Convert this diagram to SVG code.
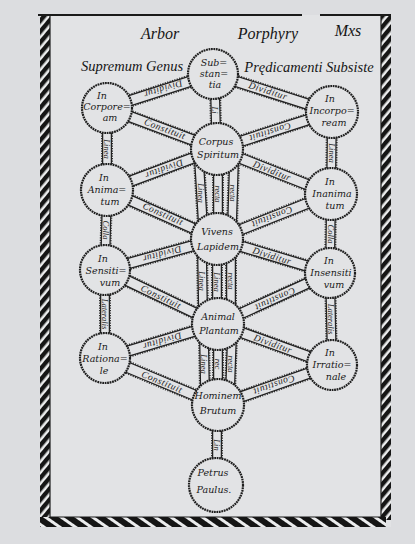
<svg xmlns="http://www.w3.org/2000/svg" width="415" height="544" viewBox="0 0 415 544">
<defs>
<pattern id="hatch" width="7" height="7" patternUnits="userSpaceOnUse" patternTransform="rotate(40)">
<rect x="0" y="0" width="7" height="7" fill="#ecedee"/>
<rect x="0" y="0" width="4.4" height="7" fill="#151515"/>
</pattern>
<pattern id="hatchB" width="9" height="9" patternUnits="userSpaceOnUse" patternTransform="rotate(-55)">
<rect x="0" y="0" width="9" height="9" fill="#ecedee"/>
<rect x="0" y="0" width="6" height="9" fill="#151515"/>
</pattern>
</defs>
<style>
.bd{stroke:#333;stroke-width:13.5;stroke-dasharray:1.2 1.3;fill:none}
.bo{stroke:#222;stroke-width:11.5;fill:none}
.bi{stroke:#e2e3e5;stroke-width:9;fill:none}
.sd{stroke:#333;stroke-width:12;stroke-dasharray:1.2 1.3;fill:none}
.so{stroke:#222;stroke-width:10;fill:none}
.si{stroke:#e2e3e5;stroke-width:7.5;fill:none}
.nd{fill:#e2e3e5;stroke:#1e1e1e;stroke-width:2.2;stroke-dasharray:1.8 0.7}
.nl{font-family:"DejaVu Serif","Liberation Serif",serif;font-style:italic;font-size:9.5px;fill:#1a1a1a;text-anchor:middle}
.bl{font-family:"Liberation Serif","DejaVu Serif",serif;font-style:italic;font-size:9.5px;letter-spacing:0.6px;fill:#1a1a1a;text-anchor:middle;dominant-baseline:central}
.vl{font-family:"Liberation Serif","DejaVu Serif",serif;font-style:italic;font-size:8.5px;fill:#1a1a1a;text-anchor:middle;dominant-baseline:central}
.tt{font-family:"Liberation Serif","DejaVu Serif",serif;font-style:italic;fill:#151515}
</style>
<rect x="0" y="0" width="415" height="544" fill="#dcdde0"/>
<rect x="40" y="15" width="351" height="512" fill="#e2e3e5"/>
<g id="frame">
<rect x="40" y="16" width="10" height="511" fill="url(#hatch)"/>
<rect x="381" y="15" width="10" height="505" fill="url(#hatch)"/>
<rect x="40" y="517" width="346" height="10" fill="url(#hatchB)"/>
<line x1="50" y1="16" x2="50" y2="517" stroke="#1a1a1a" stroke-width="1.2"/>
<line x1="381" y1="15" x2="381" y2="517" stroke="#1a1a1a" stroke-width="1.2"/>
<line x1="38" y1="15" x2="302" y2="15" stroke="#1a1a1a" stroke-width="2"/>
<line x1="320" y1="15" x2="391" y2="15" stroke="#1a1a1a" stroke-width="2"/>
<line x1="50" y1="517" x2="381" y2="517" stroke="#1a1a1a" stroke-width="1"/>
</g>
<g id="titles">
<text class="tt" x="160" y="39" font-size="16" text-anchor="middle">Arbor</text>
<text class="tt" x="268" y="39" font-size="16" text-anchor="middle">Porphyry</text>
<text class="tt" x="348" y="36" font-size="16" text-anchor="middle">Mxs</text>
<text class="tt" x="132" y="71" font-size="14.5" text-anchor="middle">Supremum Genus</text>
<text class="tt" x="309" y="72" font-size="14.5" text-anchor="middle">Prędicamenti Subsiste</text>
</g>
<g id="connectors">
<g id="diagonals">
<path d="M213 74L107 108M213 74L332 112M107 108L217 149M332 112L217 149M217 149L107 190M217 149L331 194M107 190L217 239M331 194L217 239M217 239L105 270M217 239L330 273M105 270L218 324M330 273L218 324M218 324L105 358M218 324L332 365M105 358L218 405M332 365L218 405" class="bd"/>
<path d="M213 74L107 108M213 74L332 112M107 108L217 149M332 112L217 149M217 149L107 190M217 149L331 194M107 190L217 239M331 194L217 239M217 239L105 270M217 239L330 273M105 270L218 324M330 273L218 324M218 324L105 358M218 324L332 365M105 358L218 405M332 365L218 405" class="bo"/>
<path d="M213 74L107 108M213 74L332 112M107 108L217 149M332 112L217 149M217 149L107 190M217 149L331 194M107 190L217 239M331 194L217 239M217 239L105 270M217 239L330 273M105 270L218 324M330 273L218 324M218 324L105 358M218 324L332 365M105 358L218 405M332 365L218 405" class="bi"/>
</g>
<g id="verticals">
<path d="M107 108L107 190M107 190L105 270M105 270L105 358M332 112L331 194M331 194L330 273M330 273L332 365M215 90L216 130M199 160L203 226M218 162L218 226M234 160L232 226M202 250L203 312M217 252L217 312M231 250L231 312M204 335L205 392M218 337L218 392M232 335L230 392M217 420L217 470" class="sd"/>
<path d="M107 108L107 190M107 190L105 270M105 270L105 358M332 112L331 194M331 194L330 273M330 273L332 365M215 90L216 130M199 160L203 226M218 162L218 226M234 160L232 226M202 250L203 312M217 252L217 312M231 250L231 312M204 335L205 392M218 337L218 392M232 335L230 392M217 420L217 470" class="so"/>
<path d="M107 108L107 190M107 190L105 270M105 270L105 358M332 112L331 194M331 194L330 273M330 273L332 365M215 90L216 130M199 160L203 226M218 162L218 226M234 160L232 226M202 250L203 312M217 252L217 312M231 250L231 312M204 335L205 392M218 337L218 392M232 335L230 392M217 420L217 470" class="si"/>
</g>
<text class="bl" transform="translate(163,89) rotate(162.2)">Dividitur</text>
<text class="bl" transform="translate(268,91) rotate(17.7)">Dividitur</text>
<text class="bl" transform="translate(165,129) rotate(20.4)">Constituit</text>
<text class="bl" transform="translate(270,132) rotate(162.2)">Constituit</text>
<text class="bl" transform="translate(164,169) rotate(159.6)">Dividitur</text>
<text class="bl" transform="translate(272,171) rotate(21.5)">Dividitur</text>
<text class="bl" transform="translate(163,214) rotate(24)">Constituit</text>
<text class="bl" transform="translate(272,217) rotate(158.5)">Constituit</text>
<text class="bl" transform="translate(162,254) rotate(164.5)">Dividitur</text>
<text class="bl" transform="translate(272,256) rotate(16.7)">Dividitur</text>
<text class="bl" transform="translate(161,297) rotate(25.5)">Constituit</text>
<text class="bl" transform="translate(275,299) rotate(155.5)">Constituit</text>
<text class="bl" transform="translate(162,341) rotate(163.3)">Dividitur</text>
<text class="bl" transform="translate(273,344) rotate(19.8)">Dividitur</text>
<text class="bl" transform="translate(162,382) rotate(22.6)">Constituit</text>
<text class="bl" transform="translate(274,385) rotate(160.7)">Constituit</text>
<text class="vl" transform="translate(107,149) rotate(90)">Linea</text>
<text class="vl" transform="translate(106,230) rotate(90)">Colla</text>
<text class="vl" transform="translate(105,314) rotate(90)">Lateralis</text>
<text class="vl" transform="translate(332,153) rotate(90)">Linea</text>
<text class="vl" transform="translate(331,234) rotate(90)">Colla</text>
<text class="vl" transform="translate(331,319) rotate(90)">Lateralis</text>
<text class="vl" transform="translate(215,110) rotate(90)">Li</text>
<text class="vl" transform="translate(201,193) rotate(90)">Linea</text>
<text class="vl" transform="translate(218,194) rotate(90)">recta</text>
<text class="vl" transform="translate(233,193) rotate(90)">recta</text>
<text class="vl" transform="translate(202,281) rotate(90)">Linea</text>
<text class="vl" transform="translate(217,282) rotate(90)">Linea</text>
<text class="vl" transform="translate(231,281) rotate(90)">recta</text>
<text class="vl" transform="translate(204,364) rotate(90)">Linea</text>
<text class="vl" transform="translate(218,364) rotate(90)">rec</text>
<text class="vl" transform="translate(231,364) rotate(90)">recta</text>
<text class="vl" transform="translate(217,445) rotate(90)">Lin</text>
</g>
<g id="n-substantia"><circle class="nd" cx="213" cy="74" r="25"/><text class="nl" x="214" y="66">Sub=</text><text class="nl" x="214" y="77">stan=</text><text class="nl" x="215" y="88">tia</text></g>
<g id="n-corporeum"><circle class="nd" cx="107" cy="108" r="25"/><text class="nl" x="102" y="99">In</text><text class="nl" x="107" y="110">Corpore=</text><text class="nl" x="110" y="121">am</text></g>
<g id="n-incorporeum"><circle class="nd" cx="332" cy="112" r="26"/><text class="nl" x="330" y="102">In</text><text class="nl" x="332" y="114">Incorpo=</text><text class="nl" x="334" y="126">ream</text></g>
<g id="n-corpus"><circle class="nd" cx="217" cy="149" r="26"/><text class="nl" x="216" y="145">Corpus</text><text class="nl" x="218" y="158">Spiritum</text></g>
<g id="n-animatum"><circle class="nd" cx="107" cy="190" r="26"/><text class="nl" x="104" y="181">In</text><text class="nl" x="107" y="193">Anima=</text><text class="nl" x="110" y="205">tum</text></g>
<g id="n-inanimatum"><circle class="nd" cx="331" cy="194" r="26"/><text class="nl" x="330" y="185">In</text><text class="nl" x="332" y="197">Inanima</text><text class="nl" x="335" y="209">tum</text></g>
<g id="n-vivens"><circle class="nd" cx="217" cy="239" r="26"/><text class="nl" x="217" y="235">Vivens</text><text class="nl" x="218" y="250">Lapidem</text></g>
<g id="n-sensitivum"><circle class="nd" cx="105" cy="270" r="25"/><text class="nl" x="103" y="262">In</text><text class="nl" x="106" y="274">Sensiti=</text><text class="nl" x="110" y="286">vum</text></g>
<g id="n-insensitivum"><circle class="nd" cx="330" cy="273" r="25"/><text class="nl" x="329" y="264">In</text><text class="nl" x="331" y="276">Insensiti</text><text class="nl" x="334" y="288">vum</text></g>
<g id="n-animal"><circle class="nd" cx="218" cy="324" r="26"/><text class="nl" x="218" y="320">Animal</text><text class="nl" x="219" y="334">Plantam</text></g>
<g id="n-rationale"><circle class="nd" cx="105" cy="358" r="25"/><text class="nl" x="103" y="350">In</text><text class="nl" x="105" y="362">Rationa=</text><text class="nl" x="104" y="374">le</text></g>
<g id="n-irrationale"><circle class="nd" cx="332" cy="365" r="25"/><text class="nl" x="330" y="356">In</text><text class="nl" x="332" y="368">Irratio=</text><text class="nl" x="336" y="380">nale</text></g>
<g id="n-hominem"><circle class="nd" cx="218" cy="405" r="26"/><text class="nl" x="218" y="399" font-size="8.6">Hominem</text><text class="nl" x="218" y="414">Brutum</text></g>
<g id="n-petrus"><circle class="nd" cx="216" cy="485" r="27"/><text class="nl" x="213" y="476">Petrus</text><text class="nl" x="214" y="493">Paulus.</text></g>
</svg>
